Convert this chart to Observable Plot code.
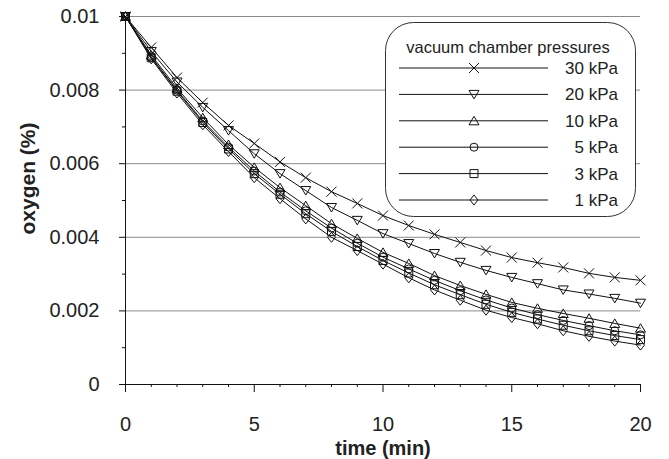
<!DOCTYPE html>
<html><head><meta charset="utf-8">
<script src="https://cdn.jsdelivr.net/npm/d3@7"></script>
<script src="https://cdn.jsdelivr.net/npm/@observablehq/plot@0.6"></script>
<style>html,body{margin:0;padding:0;background:#fff;} #chart{width:669px;height:459px;}</style>
</head><body><div id="chart"></div>
<script>
// ---- data ----
const times = [0,1,2,3,4,5,6,7,8,9,10,11,12,13,14,15,16,17,18,19,20];
const seriesNames = ["30 kPa","20 kPa","10 kPa","5 kPa","3 kPa","1 kPa"];
const kPa30 = [0.01,0.00916,0.00834,0.00766,0.00704,0.00655,0.00605,0.00562,0.00524,0.00492,0.00459,0.00432,0.00408,0.00386,0.00364,0.00345,0.00331,0.00318,0.00302,0.00291,0.00283];
const kPa20 = [0.01,0.00905,0.00822,0.00753,0.00690,0.00627,0.00573,0.00527,0.00481,0.00446,0.00410,0.00383,0.00356,0.00332,0.00310,0.00291,0.00274,0.00257,0.00246,0.00234,0.00221];
const kPa10 = [0.01,0.00895,0.00805,0.00725,0.00652,0.00590,0.00535,0.00486,0.00437,0.00397,0.00359,0.00329,0.00296,0.00269,0.00245,0.00223,0.00207,0.00193,0.00180,0.00166,0.00153];
const kPa5  = [0.01,0.00890,0.00800,0.00716,0.00645,0.00580,0.00523,0.00472,0.00425,0.00384,0.00346,0.00314,0.00283,0.00255,0.00230,0.00208,0.00190,0.00174,0.00160,0.00146,0.00135];
const kPa3  = [0.01,0.00888,0.00797,0.00712,0.00640,0.00573,0.00517,0.00464,0.00416,0.00375,0.00337,0.00303,0.00271,0.00244,0.00218,0.00196,0.00178,0.00161,0.00146,0.00133,0.00122];
const kPa1  = [0.01,0.00885,0.00792,0.00706,0.00633,0.00562,0.00505,0.00450,0.00400,0.00364,0.00327,0.00290,0.00257,0.00229,0.00202,0.00182,0.00165,0.00146,0.00131,0.00118,0.00107];
const seriesValues = [kPa30,kPa20,kPa10,kPa5,kPa3,kPa1];

const yMajorTicks = [0,0.002,0.004,0.006,0.008,0.01];
const yMinorTicks = [0.001,0.003,0.005,0.007,0.009];
const gridTicks = [0.002,0.004,0.006,0.008,0.01];
const xMajorTicks = [0,5,10,15,20];
const xMinorTicks = [1,2,3,4,6,7,8,9,11,12,13,14,16,17,18,19];
const xLabel = "time (min)";
const yLabel = "oxygen (%)";
const legendTitle = "vacuum chamber pressures";

// ---- symbols ----
const symTimes   = {draw(c){c.moveTo(-5,-5);c.lineTo(5,5);c.moveTo(-5,5);c.lineTo(5,-5);}};
const symTriDown = {draw(c){c.moveTo(-5,-4);c.lineTo(5,-4);c.lineTo(0,4.5);c.closePath();}};
const symTriUp   = {draw(c){c.moveTo(-5,4);c.lineTo(5,4);c.lineTo(0,-4.5);c.closePath();}};
const symCircle  = {draw(c){c.moveTo(4,0);c.arc(0,0,4,0,2*Math.PI);c.closePath();}};
const symSquare  = {draw(c){c.moveTo(-4,-4);c.lineTo(4,-4);c.lineTo(4,4);c.lineTo(-4,4);c.closePath();}};
const symDiamond = {draw(c){c.moveTo(0,-5);c.lineTo(4,0);c.lineTo(0,5);c.lineTo(-4,0);c.closePath();}};
const symbols = [symTimes,symTriDown,symTriUp,symCircle,symSquare,symDiamond];

const rows = [];
seriesNames.forEach((s,i)=>times.forEach((t,j)=>rows.push({series:s,t,v:seriesValues[i][j]})));

const fmt = d3.format("~g");
const W = 669, H = 459;

const plot = Plot.plot({
  width: W, height: H,
  marginLeft: 125, marginRight: 29, marginTop: 16, marginBottom: 75,
  style: {fontFamily: "'Liberation Sans', Arial, sans-serif", fontSize: "20px", background: "#fff", color: "#222"},
  x: {domain: [0,20]},
  y: {domain: [0,0.01]},
  symbol: {domain: seriesNames, range: symbols},
  marks: [
    Plot.ruleY(gridTicks, {stroke: "#8a8a8a", strokeWidth: 1}),
    Plot.line(rows, {x: "t", y: "v", z: "series", stroke: "#111", strokeWidth: 1}),
    Plot.dot(rows, {x: "t", y: "v", symbol: "series", r: 5, fill: "none", stroke: "#111", strokeWidth: 1}),
    Plot.ruleX([0], {stroke: "#111"}),
    Plot.ruleY([0], {stroke: "#111"}),
    Plot.axisY(yMajorTicks, {tickSize: 6, tickPadding: 20, tickFormat: fmt, label: null, stroke: "#111", fontSize: 20}),
    Plot.axisY(yMinorTicks, {tickSize: 3, tickFormat: () => "", label: null, stroke: "#111"}),
    Plot.axisX(xMajorTicks, {tickSize: 8, tickPadding: 24, tickFormat: fmt, label: null, stroke: "#111", fontSize: 20}),
    Plot.axisX(xMinorTicks, {tickSize: 3, tickFormat: () => "", label: null, stroke: "#111"}),
    Plot.text([xLabel], {text: d => d, frameAnchor: "bottom", lineAnchor: "middle", textAnchor: "middle", dy: 64, fontWeight: "bold", fontSize: 20, fill: "#222"}),
    Plot.text([yLabel], {text: d => d, frameAnchor: "left", lineAnchor: "middle", textAnchor: "middle", dx: -97, dy: -22, rotate: -90, fontWeight: "bold", fontSize: 21, fill: "#222"})
  ]
});

document.getElementById("chart").appendChild(plot);

// ---- legend (drawn inside the plot svg) ----
const svg = d3.select(plot);
const lg = svg.append("g").attr("font-family", "'Liberation Sans', Arial, sans-serif");
lg.append("rect").attr("x", 385.5).attr("y", 22.5).attr("width", 250).attr("height", 194)
  .attr("rx", 28).attr("ry", 28).attr("fill", "#fff").attr("stroke", "#333").attr("stroke-width", 1);
lg.append("text").attr("x", 508).attr("y", 47).attr("dy", "0.35em").attr("text-anchor", "middle")
  .attr("font-size", 16.5).attr("fill", "#222").text(legendTitle);
seriesNames.forEach((s, i) => {
  const y = 68 + i * 26.4;
  lg.append("line").attr("x1", 399).attr("x2", 548).attr("y1", y).attr("y2", y)
    .attr("stroke", "#111").attr("stroke-width", 1);
  lg.append("path").attr("transform", `translate(474,${y})`)
    .attr("d", d3.symbol(symbols[i], 25)()).attr("fill", "none").attr("stroke", "#111").attr("stroke-width", 1);
  lg.append("text").attr("x", 618).attr("y", y).attr("dy", "0.35em").attr("text-anchor", "end")
    .attr("font-size", 17).attr("fill", "#222").text(s);
});
</script></body></html>
